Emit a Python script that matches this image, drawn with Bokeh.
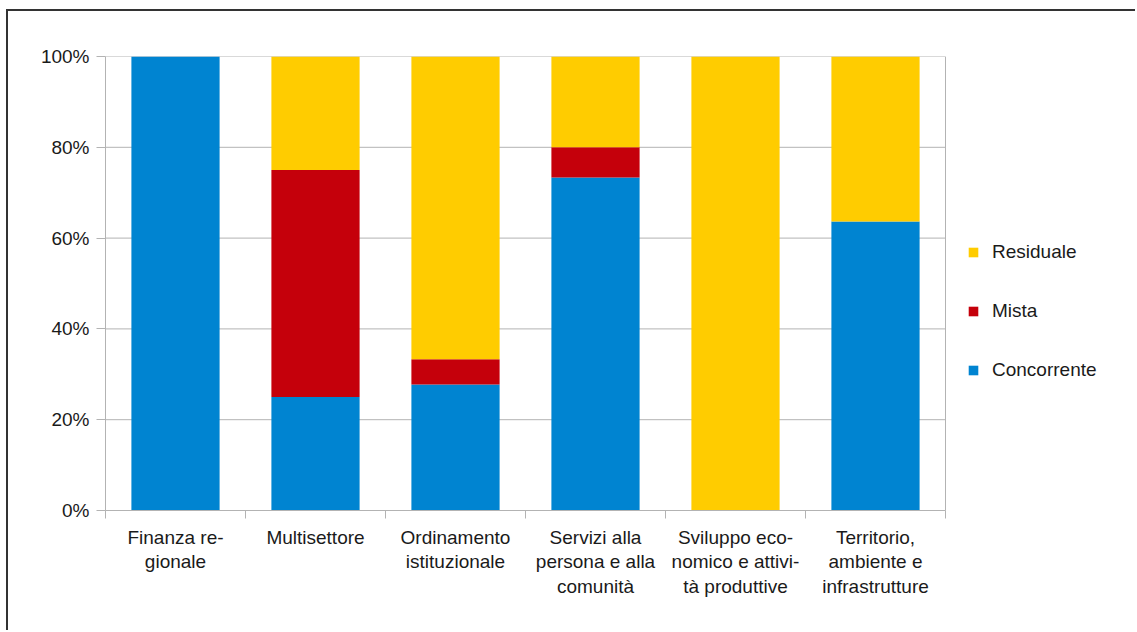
from bokeh.plotting import figure
from bokeh.models import (Range1d, FixedTicker, NumeralTickFormatter, Legend,
                          LegendItem)
from bokeh.embed import file_html
from bokeh.resources import INLINE

# Share of regional laws by type of legislative competence, per sector
categories = [
    "Finanza regionale",
    "Multisettore",
    "Ordinamento istituzionale",
    "Servizi alla persona e alla comunità",
    "Sviluppo economico e attività produttive",
    "Territorio, ambiente e infrastrutture",
]
tick_labels = [
    "Finanza re-\ngionale",
    "Multisettore",
    "Ordinamento\nistituzionale",
    "Servizi alla\npersona e alla\ncomunità",
    "Sviluppo eco-\nnomico e attivi-\ntà produttive",
    "Territorio,\nambiente e\ninfrastrutture",
]
series = ["Concorrente", "Mista", "Residuale"]
concorrente = [1.0, 0.25, 0.2778, 0.7333, 0.0, 0.6364]
mista = [0.0, 0.50, 0.0556, 0.0667, 0.0, 0.0]
residuale = [0.0, 0.25, 0.6667, 0.2000, 1.0, 0.3636]
yticks = [0, 0.2, 0.4, 0.6, 0.8, 1.0]

colors = ["#0084D1", "#C5000B", "#FFCC00"]
FONT = "Liberation Sans"
FS = "19px"
GRID = "#b3b3b3"
TEXT = "#1a1a1a"

W, H = 1129, 621
LEFT, TOP, BOTTOM = 97, 45, 122
CAT_PX = 140  # width of one category slot in pixels
n = len(categories)

# the frame runs to the right edge so the legend sits inside it;
# the chart itself occupies x in [0, n]
p = figure(width=W, height=H, output_backend="svg", toolbar_location=None,
           x_range=Range1d(0, (W - LEFT) / CAT_PX), y_range=Range1d(0, 1),
           min_border_left=LEFT, min_border_right=0,
           min_border_top=TOP, min_border_bottom=BOTTOM,
           margin=(9, 0, 0, 6),
           styles={"border-left": "2px solid #333333",
                   "border-top": "2px solid #333333"})
p.background_fill_color = "white"
p.border_fill_color = "white"
p.outline_line_color = None
p.xgrid.visible = False
p.ygrid.visible = False

# horizontal grid lines and right edge of the chart wall
p.segment(x0=0, x1=n, y0=yticks, y1=yticks, line_color=GRID, line_width=1)
p.segment(x0=[n], x1=[n], y0=[0], y1=[1], line_color=GRID, line_width=1)

xs = [i + 0.5 for i in range(n)]
data = dict(x=xs, Concorrente=concorrente, Mista=mista, Residuale=residuale)
rs = p.vbar_stack(series, x="x", width=0.63, color=colors, source=data,
                  line_color=None)

# y axis
p.yaxis.ticker = FixedTicker(ticks=yticks)
p.yaxis.formatter = NumeralTickFormatter(format="0%")
p.yaxis.axis_line_color = GRID
p.yaxis.major_tick_line_color = GRID
p.yaxis.major_tick_out = 9
p.yaxis.major_tick_in = 0
p.yaxis.minor_tick_line_color = None
p.yaxis.major_label_standoff = 7
p.yaxis.major_label_text_font = FONT
p.yaxis.major_label_text_font_size = FS
p.yaxis.major_label_text_color = TEXT

# x axis: labels at bar centres, tick marks at category boundaries
p.xaxis.bounds = (0, n)
p.xaxis.ticker = FixedTicker(ticks=xs, minor_ticks=list(range(n + 1)))
p.xaxis.major_label_overrides = {x: t for x, t in zip(xs, tick_labels)}
p.xaxis.axis_line_color = GRID
p.xaxis.major_tick_line_color = None
p.xaxis.major_tick_out = 0
p.xaxis.major_tick_in = 0
p.xaxis.minor_tick_line_color = GRID
p.xaxis.minor_tick_out = 8
p.xaxis.minor_tick_in = 0
p.xaxis.major_label_standoff = 8
p.xaxis.major_label_text_font = FONT
p.xaxis.major_label_text_font_size = FS
p.xaxis.major_label_text_color = TEXT
p.xaxis.major_label_text_align = "left"
p.xaxis.major_label_text_line_height = 1.19

# legend, top entry is the last stacked series
items = [LegendItem(label=s, renderers=[r]) for s, r in zip(series, rs)][::-1]
legend = Legend(items=items, location=(862, 129), orientation="vertical",
                glyph_width=12, glyph_height=12, label_standoff=13,
                label_height=22, spacing=37, padding=0, margin=0,
                border_line_color=None, background_fill_alpha=0,
                label_text_font=FONT, label_text_font_size=FS,
                label_text_color=TEXT)
p.add_layout(legend, "center")

open("out.html", "w").write(file_html(p, INLINE))
